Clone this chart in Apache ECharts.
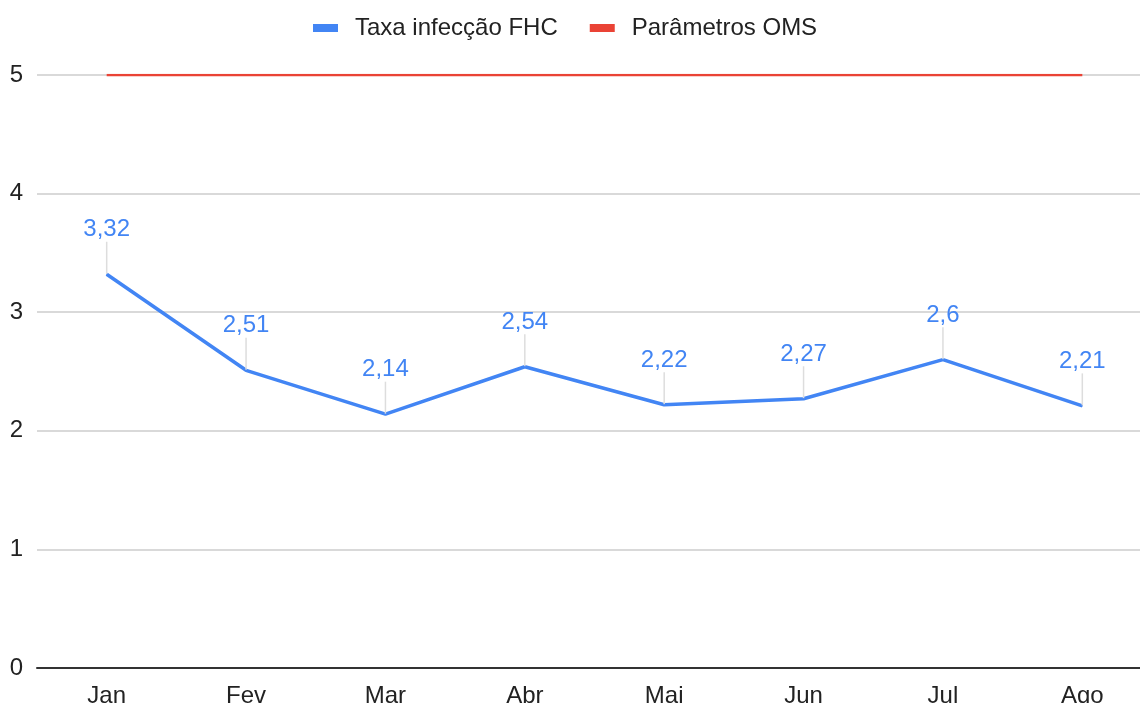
<!DOCTYPE html>
<html>
<head>
<meta charset="utf-8">
<script src="https://cdn.jsdelivr.net/npm/echarts@6/dist/echarts.min.js"></script>
<style>
  html, body { margin: 0; padding: 0; background: #fff; }
  #chart { width: 1140px; height: 703px; }
</style>
</head>
<body>
<div id="chart"></div>
<script>
// dados
var meses = ['Jan', 'Fev', 'Mar', 'Abr', 'Mai', 'Jun', 'Jul', 'Ago'];
var taxaFHC = [3.32, 2.51, 2.14, 2.54, 2.22, 2.27, 2.6, 2.21];
var parametrosOMS = [5, 5, 5, 5, 5, 5, 5, 5];

var fonte = '"Liberation Sans", Arial, sans-serif';

var chart = echarts.init(document.getElementById('chart'));
chart.setOption({
    animation: false,
    legend: {
        top: 11,
        left: 308,
        itemWidth: 25,
        itemHeight: 8,
        itemGap: 32,
        icon: 'rect',
        textStyle: { fontFamily: fonte, fontSize: 24, color: '#222', padding: [0, 0, 0, 12] },
        data: ['Taxa infecção FHC', 'Parâmetros OMS']
    },
    grid: {
        left: 37,
        top: 75,
        right: -12,
        bottom: 35,
        outerBoundsMode: 'none',
        containLabel: false
    },
    xAxis: {
        type: 'category',
        data: meses,
        boundaryGap: true,
        axisLine: { lineStyle: { color: '#333', width: 2 } },
        axisTick: { show: false },
        axisLabel: { fontFamily: fonte, fontSize: 24, color: '#222', margin: 16 }
    },
    yAxis: {
        type: 'value',
        min: 0,
        max: 5,
        interval: 1,
        axisLine: { show: false },
        axisTick: { show: false },
        axisLabel: { fontFamily: fonte, fontSize: 24, color: '#222', margin: 14 },
        splitLine: { lineStyle: { color: '#ccc', width: 1.5 } }
    },
    series: [{
        name: 'Taxa infecção FHC',
        type: 'line',
        data: taxaFHC,
        symbol: 'circle',
        symbolSize: 1,
        showAllSymbol: true,
        lineStyle: { color: '#4285f4', width: 3.5 },
        itemStyle: { color: '#4285f4' },
        label: {
            show: true,
            position: 'top',
            distance: 4,
            fontFamily: fonte,
            fontSize: 24,
            color: '#4285f4',
            formatter: function (p) { return String(p.value).replace('.', ','); }
        },
        labelLayout: { dy: -28 },
        labelLine: { show: true, lineStyle: { color: '#ddd', width: 1.5 } },
        z: 3
    }, {
        name: 'Parâmetros OMS',
        type: 'line',
        data: parametrosOMS,
        symbol: 'none',
        lineStyle: { color: '#ea4335', width: 2.5 },
        itemStyle: { color: '#ea4335' },
        z: 2
    }]
});
</script>
</body>
</html>
